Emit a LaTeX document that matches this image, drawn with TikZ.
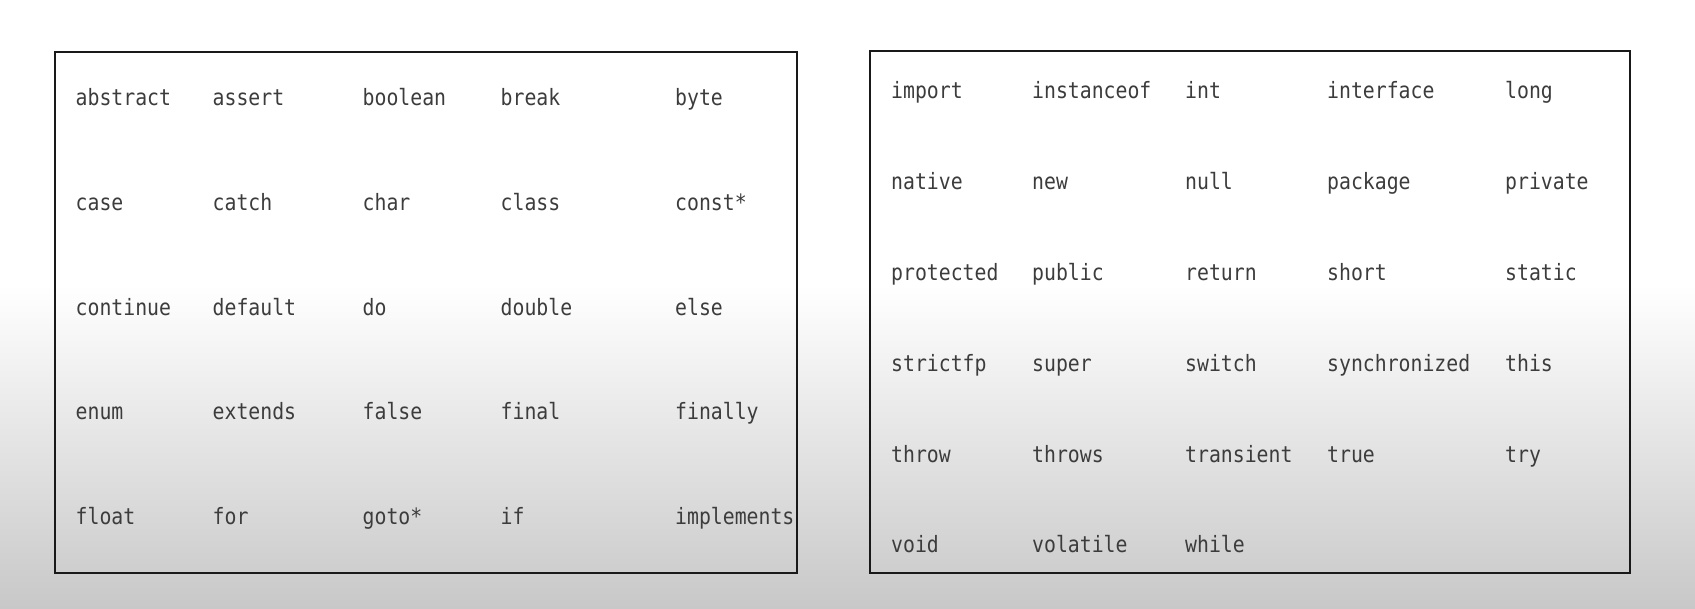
\documentclass[tikz,border=0pt]{standalone}
\usepackage{fontspec}
\newfontfamily\codefont[FakeStretch=0.88]{DejaVu Sans Mono}
\begin{document}
\begin{tikzpicture}[x=1pt,y=-1pt,
  kw/.style={anchor=base west,inner sep=0pt,font=\codefont\fontsize{22.5}{24}\selectfont,text={rgb,255:red,60;green,60;blue,60}},
  frame/.style={draw={rgb,255:red,25;green,25;blue,25},line width=2.4pt}]
\useasboundingbox (0,0) rectangle (1695,608);
\fill[white] (0,0) rectangle (1695,285);
\shade[top color=white,bottom color={rgb,255:red,200;green,200;blue,200}] (0,285) rectangle (1695,608);
% left box
\draw[frame] (55,52) rectangle (797,573);
\node[kw] (a11) at (75.5,105.5) {abstract};
\node[kw] (a12) at (212.5,105.5) {assert};
\node[kw] (a13) at (362.5,105.5) {boolean};
\node[kw] (a14) at (500.5,105.5) {break};
\node[kw] (a15) at (675,105.5) {byte};
\node[kw] (a21) at (75.5,210.5) {case};
\node[kw] (a22) at (212.5,210.5) {catch};
\node[kw] (a23) at (362.5,210.5) {char};
\node[kw] (a24) at (500.5,210.5) {class};
\node[kw] (a25) at (675,210.5) {const*};
\node[kw] (a31) at (75.5,315) {continue};
\node[kw] (a32) at (212.5,315) {default};
\node[kw] (a33) at (362.5,315) {do};
\node[kw] (a34) at (500.5,315) {double};
\node[kw] (a35) at (675,315) {else};
\node[kw] (a41) at (75.5,419.5) {enum};
\node[kw] (a42) at (212.5,419.5) {extends};
\node[kw] (a43) at (362.5,419.5) {false};
\node[kw] (a44) at (500.5,419.5) {final};
\node[kw] (a45) at (675,419.5) {finally};
\node[kw] (a51) at (75.5,524) {float};
\node[kw] (a52) at (212.5,524) {for};
\node[kw] (a53) at (362.5,524) {goto*};
\node[kw] (a54) at (500.5,524) {if};
\node[kw] (a55) at (675,524) {implements};
% right box
\draw[frame] (870,51) rectangle (1630,573);
\node[kw] (b11) at (891,98.5) {import};
\node[kw] (b12) at (1032,98.5) {instanceof};
\node[kw] (b13) at (1185,98.5) {int};
\node[kw] (b14) at (1327,98.5) {interface};
\node[kw] (b15) at (1505,98.5) {long};
\node[kw] (b21) at (891,189) {native};
\node[kw] (b22) at (1032,189) {new};
\node[kw] (b23) at (1185,189) {null};
\node[kw] (b24) at (1327,189) {package};
\node[kw] (b25) at (1505,189) {private};
\node[kw] (b31) at (891,280) {protected};
\node[kw] (b32) at (1032,280) {public};
\node[kw] (b33) at (1185,280) {return};
\node[kw] (b34) at (1327,280) {short};
\node[kw] (b35) at (1505,280) {static};
\node[kw] (b41) at (891,371) {strictfp};
\node[kw] (b42) at (1032,371) {super};
\node[kw] (b43) at (1185,371) {switch};
\node[kw] (b44) at (1327,371) {synchronized};
\node[kw] (b45) at (1505,371) {this};
\node[kw] (b51) at (891,462) {throw};
\node[kw] (b52) at (1032,462) {throws};
\node[kw] (b53) at (1185,462) {transient};
\node[kw] (b54) at (1327,462) {true};
\node[kw] (b55) at (1505,462) {try};
\node[kw] (b61) at (891,552.5) {void};
\node[kw] (b62) at (1032,552.5) {volatile};
\node[kw] (b63) at (1185,552.5) {while};
\end{tikzpicture}
\end{document}
